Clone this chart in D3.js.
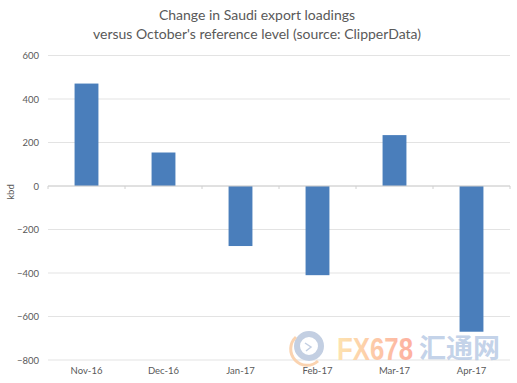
<!DOCTYPE html>
<html>
<head>
<meta charset="utf-8">
<script src="https://cdn.jsdelivr.net/npm/d3@7"></script>
<style>
  html, body { margin: 0; padding: 0; background: #fff; }
  svg { display: block; }
</style>
</head>
<body>
<svg class="chart"></svg>
<script>
// values
const months = ["Nov-16", "Dec-16", "Jan-17", "Feb-17", "Mar-17", "Apr-17"];
const loadings = [471, 154, -276, -410, 234, -670];
const yTicks = [600, 400, 200, 0, -200, -400, -600, -800];
const titleLines = ["Change in Saudi export loadings", "versus October's reference level (source: ClipperData)"];

const width = 517, height = 383;
const margin = {top: 55.5, right: 7, bottom: 23, left: 48};
const plotW = width - margin.left - margin.right;
const plotH = height - margin.top - margin.bottom;

const svg = d3.select(".chart").attr("width", width).attr("height", height);
const g = svg.append("g").attr("transform", "translate(" + margin.left + "," + margin.top + ")");

const x = d3.scaleBand().domain(months).range([0, plotW]).paddingInner(0.69).paddingOuter(0.345);
const y = d3.scaleLinear().domain([-800, 600]).range([plotH, 0]);

// gridlines
g.selectAll("line.grid")
  .data(yTicks)
  .enter().append("line")
  .attr("class", "grid")
  .attr("x1", 0)
  .attr("x2", plotW)
  .attr("y1", d => y(d))
  .attr("y2", d => y(d))
  .attr("stroke", "#e3e3e3")
  .attr("stroke-width", 1);

// y axis, labels only
const yAxis = g.append("g").call(d3.axisLeft(y).tickValues(yTicks).tickSize(0).tickPadding(9));
yAxis.select(".domain").remove();
yAxis.selectAll("text")
  .attr("fill", "#595959")
  .style("font-family", "Lato, sans-serif")
  .style("font-size", "9.5px");

// bars
g.selectAll("rect.bar")
  .data(months.map((m, i) => ({month: m, value: loadings[i]})))
  .enter().append("rect")
  .attr("class", "bar")
  .attr("x", d => x(d.month))
  .attr("y", d => y(Math.max(0, d.value)))
  .attr("width", x.bandwidth())
  .attr("height", d => Math.abs(y(d.value) - y(0)))
  .attr("fill", "#4a7ebb");

// zero line with small ticks between the categories
const zeroAxis = g.append("g")
  .attr("transform", "translate(0," + y(0) + ")");
zeroAxis.append("line").attr("x2", plotW).attr("stroke", "#d0d0d0");
zeroAxis.selectAll("line.tick")
  .data(d3.range(months.length + 1))
  .enter().append("line")
  .attr("class", "tick")
  .attr("x1", i => i * x.step())
  .attr("x2", i => i * x.step())
  .attr("y2", 3)
  .attr("stroke", "#d0d0d0");

// month labels sit at the bottom, not on the zero line
const xAxis = g.append("g")
  .attr("transform", "translate(0," + plotH + ")")
  .call(d3.axisBottom(x).tickSize(0).tickPadding(7));
xAxis.select(".domain").remove();
xAxis.selectAll("text")
  .attr("fill", "#595959")
  .style("font-family", "Lato, sans-serif")
  .style("font-size", "9.5px");

// y axis title
svg.append("text")
  .attr("transform", "translate(14,192) rotate(-90)")
  .attr("text-anchor", "middle")
  .attr("fill", "#595959")
  .style("font-family", "Lato, sans-serif")
  .style("font-size", "9.5px")
  .text("kbd");

// chart title
svg.selectAll("text.title")
  .data(titleLines)
  .enter().append("text")
  .attr("class", "title")
  .attr("x", 257)
  .attr("y", (d, i) => 20 + i * 18.5)
  .attr("text-anchor", "middle")
  .attr("fill", "#595959")
  .style("font-family", "Lato, sans-serif")
  .style("font-size", "14px")
  .text(d => d);

// watermark
const mark = svg.append("g").attr("class", "watermark");
mark.append("circle").attr("cx", 309).attr("cy", 346).attr("r", 12)
  .attr("fill", "none").attr("stroke", "#c3cfe2").attr("stroke-width", 6);
mark.append("path").attr("d", "M296 337 A16 16 0 0 0 318 361")
  .attr("fill", "none").attr("stroke", "#fad3b0").attr("stroke-width", 3);
mark.append("path").attr("d", "M305 343 L311 347 L306 351")
  .attr("fill", "none").attr("stroke", "#c3cfe2").attr("stroke-width", 1.5);

const defs = svg.append("defs");
const grad = defs.append("linearGradient").attr("id", "fxGrad");
grad.append("stop").attr("offset", "0%").attr("stop-color", "#fde3b0");
grad.append("stop").attr("offset", "100%").attr("stop-color", "#fdb0a0");

mark.append("text")
  .attr("x", 337).attr("y", 360)
  .attr("fill", "url(#fxGrad)")
  .style("font-family", "'Liberation Sans', sans-serif")
  .style("font-weight", "bold")
  .style("font-size", "31px")
  .attr("textLength", 76)
  .attr("lengthAdjust", "spacingAndGlyphs")
  .text("FX678");
mark.append("text")
  .attr("x", 419).attr("y", 358)
  .attr("fill", "#bccde6")
  .attr("fill-opacity", 0.9)
  .style("font-family", "'Noto Sans CJK SC', sans-serif")
  .style("font-weight", "bold")
  .style("font-size", "27px")
  .attr("textLength", 81)
  .attr("lengthAdjust", "spacingAndGlyphs")
  .text("汇通网");
</script>
</body>
</html>
